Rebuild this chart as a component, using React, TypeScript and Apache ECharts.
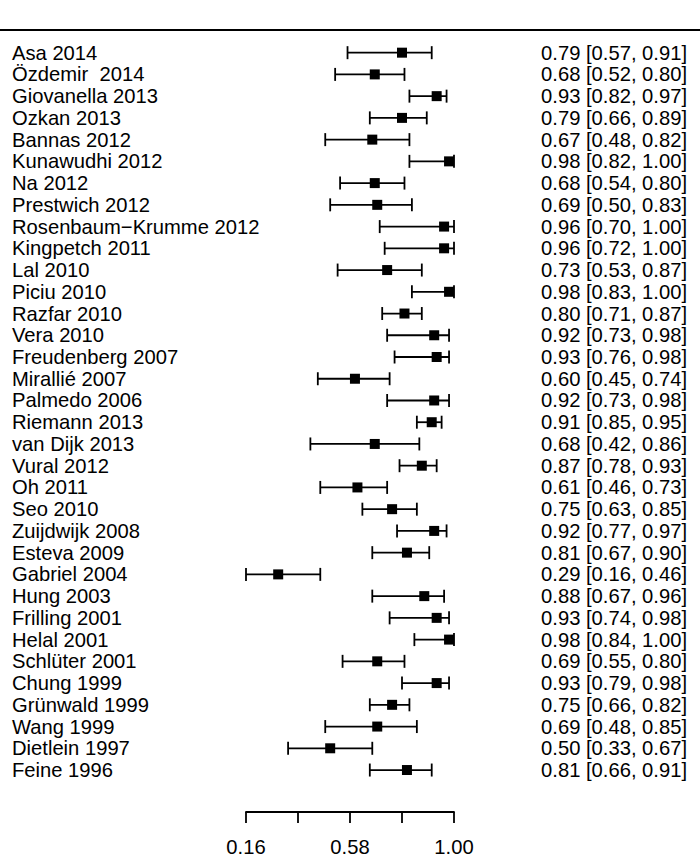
import React, { useEffect, useRef } from "react";
import * as echarts from "echarts";

const studies = [
  "Asa 2014", "Özdemir  2014", "Giovanella 2013", "Ozkan 2013", "Bannas 2012",
  "Kunawudhi 2012", "Na 2012", "Prestwich 2012", "Rosenbaum−Krumme 2012", "Kingpetch 2011",
  "Lal 2010", "Piciu 2010", "Razfar 2010", "Vera 2010", "Freudenberg 2007",
  "Mirallié 2007", "Palmedo 2006", "Riemann 2013", "van Dijk 2013", "Vural 2012",
  "Oh 2011", "Seo 2010", "Zuijdwijk 2008", "Esteva 2009", "Gabriel 2004",
  "Hung 2003", "Frilling 2001", "Helal 2001", "Schlüter 2001", "Chung 1999",
  "Grünwald 1999", "Wang 1999", "Dietlein 1997", "Feine 1996",
];
const estimates = [
  0.79, 0.68, 0.93, 0.79, 0.67, 0.98, 0.68, 0.69, 0.96, 0.96,
  0.73, 0.98, 0.80, 0.92, 0.93, 0.60, 0.92, 0.91, 0.68, 0.87,
  0.61, 0.75, 0.92, 0.81, 0.29, 0.88, 0.93, 0.98, 0.69, 0.93,
  0.75, 0.69, 0.50, 0.81,
];
const lower = [
  0.57, 0.52, 0.82, 0.66, 0.48, 0.82, 0.54, 0.50, 0.70, 0.72,
  0.53, 0.83, 0.71, 0.73, 0.76, 0.45, 0.73, 0.85, 0.42, 0.78,
  0.46, 0.63, 0.77, 0.67, 0.16, 0.67, 0.74, 0.84, 0.55, 0.79,
  0.66, 0.48, 0.33, 0.66,
];
const upper = [
  0.91, 0.80, 0.97, 0.89, 0.82, 1.00, 0.80, 0.83, 1.00, 1.00,
  0.87, 1.00, 0.87, 0.98, 0.98, 0.74, 0.98, 0.95, 0.86, 0.93,
  0.73, 0.85, 0.97, 0.90, 0.46, 0.96, 0.98, 1.00, 0.80, 0.98,
  0.82, 0.85, 0.67, 0.91,
];
const tickValues = [0.16, 0.37, 0.58, 0.79, 1.0];
const labelValues = [0.16, 0.58, 1.0];

const FONT = "'Liberation Sans', Arial, Helvetica, sans-serif";

export default function App() {
  const ref = useRef<HTMLDivElement>(null);
  useEffect(() => {
    if (!ref.current) return;
    const chart = echarts.init(ref.current, null, { renderer: "svg" });
    const ciLabels = estimates.map(
      (e, i) => `${e.toFixed(2)} [${lower[i].toFixed(2)}, ${upper[i].toFixed(2)}]`
    );
    const data = estimates.map((e, i) => [e, lower[i], upper[i], i]);
    chart.setOption({
      animation: false,
      backgroundColor: "#ffffff",
      textStyle: { fontFamily: FONT },
      graphic: [
        {
          type: "line",
          shape: { x1: 0, y1: 30, x2: 700, y2: 30 },
          style: { stroke: "#000", lineWidth: 2 },
        },
      ],
      grid: { left: 246, right: 246, top: 41.8, bottom: 79.1 },
      xAxis: {
        type: "value",
        min: 0.16,
        max: 1.0,
        offset: 31,
        splitLine: { show: false },
        axisLine: { show: true, lineStyle: { color: "#000", width: 1.8 } },
        axisTick: {
          show: true,
          length: 11,
          customValues: tickValues,
          lineStyle: { color: "#000", width: 1.8 },
        },
        axisLabel: {
          customValues: labelValues,
          formatter: (v: number) => v.toFixed(2),
          color: "#000",
          fontSize: 20.2,
          fontFamily: FONT,
          margin: 25,
        },
      },
      yAxis: [
        {
          type: "category",
          data: studies,
          inverse: true,
          position: "left",
          axisLine: { show: false },
          axisTick: { show: false },
          splitLine: { show: false },
          axisLabel: {
            align: "left",
            margin: 234,
            color: "#000",
            fontSize: 20.2,
            fontFamily: FONT,
            interval: 0,
          },
        },
        {
          type: "category",
          data: ciLabels,
          inverse: true,
          position: "right",
          axisLine: { show: false },
          axisTick: { show: false },
          splitLine: { show: false },
          axisLabel: {
            align: "right",
            margin: 233,
            color: "#000",
            fontSize: 20.2,
            fontFamily: FONT,
            interval: 0,
          },
        },
      ],
      series: [
        {
          type: "custom",
          yAxisIndex: 0,
          encode: { x: [0, 1, 2], y: 3 },
          data,
          renderItem: (params: any, api: any) => {
            const est = api.value(0);
            const lo = api.value(1);
            const hi = api.value(2);
            const idx = api.value(3);
            const pE = api.coord([est, idx]);
            const pL = api.coord([lo, idx]);
            const pH = api.coord([hi, idx]);
            const y = pE[1];
            const th = 6.5;
            const sq = 10;
            const ls = { stroke: "#000", lineWidth: 1.8 };
            return {
              type: "group",
              children: [
                { type: "line", shape: { x1: pL[0], y1: y, x2: pH[0], y2: y }, style: ls },
                { type: "line", shape: { x1: pL[0], y1: y - th, x2: pL[0], y2: y + th }, style: ls },
                { type: "line", shape: { x1: pH[0], y1: y - th, x2: pH[0], y2: y + th }, style: ls },
                {
                  type: "rect",
                  shape: { x: pE[0] - sq / 2, y: y - sq / 2, width: sq, height: sq },
                  style: { fill: "#000" },
                },
              ],
            };
          },
        },
      ],
    });
    return () => chart.dispose();
  }, []);
  return (
    <div
      ref={ref}
      style={{ position: "absolute", left: 0, top: 0, width: 700, height: 860 }}
    />
  );
}
